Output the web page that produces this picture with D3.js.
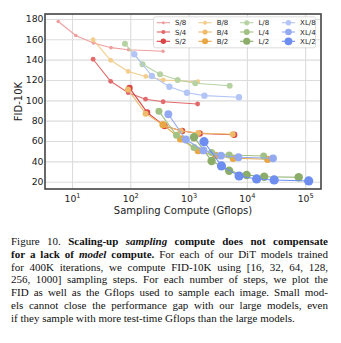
<!DOCTYPE html>
<html>
<head>
<meta charset="utf-8">
<script src="https://cdn.jsdelivr.net/npm/d3@7"></script>
<style>
  body { margin: 0; background: #fff; }
  svg { display: block; }
</style>
</head>
<body>
<div id="chart"></div>
<script>
// ---- data ----
// number of sampling steps per point: 16, 32, 64, 128, 256, 1000
const modelNames = ["S/8", "S/4", "S/2", "B/8", "B/4", "B/2", "L/8", "L/4", "L/2", "XL/8", "XL/4", "XL/2"];

const gflopsS8 = [5.8, 11.6, 23.3, 46.6, 93, 364];
const fidS8 = [177.5, 163.8, 156.4, 151.8, 149.8, 148.3];
const gflopsS4 = [23, 46, 92, 183, 366, 1430];
const fidS4 = [140.4, 118.7, 107.5, 101.1, 98.6, 96.4];
const gflopsS2 = [97, 194, 387, 774, 1550, 6050];
const fidS2 = [112.2, 88.1, 74.8, 69.9, 67.4, 66.2];

const gflopsB8 = [23, 46, 92, 184, 368, 1440];
const fidB8 = [159.6, 139.4, 128.4, 123.5, 120.0, 118.3];
const gflopsB4 = [91, 183, 366, 731, 1460, 5710];
const fidB4 = [110.7, 86.9, 75.8, 69.9, 67.9, 66.6];
const gflopsB2 = [364, 728, 1460, 2910, 5820, 22700];
const fidB2 = [76.1, 62.0, 50.5, 45.8, 43.0, 42.0];

const gflopsL8 = [81, 162, 324, 649, 1300, 5070];
const fidL8 = [155.7, 135.5, 125.6, 120.0, 116.8, 114.4];
const gflopsL4 = [310, 621, 1240, 2480, 4970, 19400];
const fidL4 = [89.2, 65.6, 53.6, 48.7, 46.3, 45.3];
const gflopsL2 = [1240, 2480, 4960, 9910, 19800, 77500];
const fidL2 = [63.7, 40.4, 30.8, 26.6, 24.9, 24.3];

const gflopsXL8 = [117, 234, 469, 937, 1870, 7320];
const fidXL8 = [145.3, 124.0, 113.4, 107.5, 104.6, 103.0];
const gflopsXL4 = [449, 898, 1800, 3590, 7180, 28100];
const fidXL4 = [86.3, 61.5, 50.7, 45.6, 44.0, 43.0];
const gflopsXL2 = [1840, 3670, 7350, 14700, 29400, 115000];
const fidXL2 = [59.3, 35.5, 25.6, 22.7, 21.7, 20.7];

const xTicks = [10, 100, 1000, 10000, 100000];
const xTickExp = ["1", "2", "3", "4", "5"];
const yTicks = [20, 40, 60, 80, 100, 120, 140, 160, 180];

// ---- styles (kept apart from data) ----
const style = {
    "S/8":  { color: "#ef9f9f", r: 1.8 },
    "S/4":  { color: "#e36a6a", r: 2.4 },
    "S/2":  { color: "#d94545", r: 3.2 },
    "B/8":  { color: "#f3cd8c", r: 2.4 },
    "B/4":  { color: "#eebb6a", r: 3.0 },
    "B/2":  { color: "#e9a645", r: 3.6 },
    "L/8":  { color: "#b7d2a2", r: 3.0 },
    "L/4":  { color: "#a2c184", r: 3.5 },
    "L/2":  { color: "#8bad69", r: 4.2 },
    "XL/8": { color: "#b3c5f6", r: 3.2 },
    "XL/4": { color: "#93aaf2", r: 3.9 },
    "XL/2": { color: "#6d8ef0", r: 4.6 }
};

const series = [
    { name: "S/8", gflops: gflopsS8, fid: fidS8 },
    { name: "S/4", gflops: gflopsS4, fid: fidS4 },
    { name: "S/2", gflops: gflopsS2, fid: fidS2 },
    { name: "B/8", gflops: gflopsB8, fid: fidB8 },
    { name: "B/4", gflops: gflopsB4, fid: fidB4 },
    { name: "B/2", gflops: gflopsB2, fid: fidB2 },
    { name: "L/8", gflops: gflopsL8, fid: fidL8 },
    { name: "L/4", gflops: gflopsL4, fid: fidL4 },
    { name: "L/2", gflops: gflopsL2, fid: fidL2 },
    { name: "XL/8", gflops: gflopsXL8, fid: fidXL8 },
    { name: "XL/4", gflops: gflopsXL4, fid: fidXL4 },
    { name: "XL/2", gflops: gflopsXL2, fid: fidXL2 }
];

// ---- layout ----
const width = 341, height = 343;
const plot = { left: 45, right: 321, top: 14, bottom: 189 };
const sans = "'DejaVu Sans', sans-serif";

const svg = d3.select("#chart")
    .append("svg")
    .attr("width", width)
    .attr("height", height);

// scales
const xScale = d3.scaleLog()
    .domain([3.44, 1.87e5])
    .range([plot.left, plot.right]);
const yScale = d3.scaleLinear()
    .domain([12.8, 184.9])
    .range([plot.bottom, plot.top]);

// grid lines
const gridX = svg.append("g")
    .attr("transform", "translate(0," + plot.bottom + ")")
    .call(d3.axisBottom(xScale).tickValues(xTicks).tickFormat("")
        .tickSize(-(plot.bottom - plot.top)));
const gridY = svg.append("g")
    .attr("transform", "translate(" + plot.left + ",0)")
    .call(d3.axisLeft(yScale).tickValues(yTicks).tickFormat("")
        .tickSize(-(plot.right - plot.left)));
[gridX, gridY].forEach(function(g) {
    g.select(".domain").remove();
    g.selectAll("line").attr("stroke", "#dcdcdc").attr("stroke-width", 1.1);
});

// y tick labels
const yAxis = svg.append("g")
    .attr("transform", "translate(" + (plot.left - 1.5) + ",0)")
    .call(d3.axisLeft(yScale).tickValues(yTicks).tickSize(0).tickPadding(0));
yAxis.select(".domain").remove();
yAxis.selectAll("text")
    .attr("font-family", sans)
    .attr("font-size", 9.3)
    .attr("fill", "#222");

// x tick labels with superscript exponent
const xAxis = svg.append("g")
    .attr("transform", "translate(0," + plot.bottom + ")")
    .call(d3.axisBottom(xScale).tickValues(xTicks).tickSize(0).tickFormat(""));
xAxis.select(".domain").remove();
xAxis.selectAll(".tick").each(function(d, i) {
    const t = d3.select(this).append("text")
        .attr("y", 12.5)
        .attr("text-anchor", "middle")
        .attr("font-family", sans)
        .attr("font-size", 9.3)
        .attr("fill", "#222");
    t.append("tspan").text("10");
    t.append("tspan").text(xTickExp[i])
        .attr("font-size", 6.6)
        .attr("dy", -4);
});

// axis titles
svg.append("text")
    .attr("x", (plot.left + plot.right) / 2)
    .attr("y", 213.5)
    .attr("text-anchor", "middle")
    .attr("font-family", sans)
    .attr("font-size", 10)
    .attr("fill", "#222")
    .text("Sampling Compute (Gflops)");
svg.append("text")
    .attr("transform", "translate(21.5," + (plot.top + plot.bottom) / 2 + ") rotate(-90)")
    .attr("text-anchor", "middle")
    .attr("font-family", sans)
    .attr("font-size", 10)
    .attr("fill", "#222")
    .text("FID-10K");

// lines + markers
const line = d3.line()
    .x(function(d) { return xScale(d.g); })
    .y(function(d) { return yScale(d.fid); });

const marks = svg.append("g");
series.forEach(function(s) {
    const pts = s.gflops.map(function(g, i) { return { g: g, fid: s.fid[i] }; });
    const st = style[s.name];
    const g = marks.append("g");
    g.append("path")
        .datum(pts)
        .attr("d", line)
        .attr("fill", "none")
        .attr("stroke", st.color)
        .attr("stroke-width", 1.1);
    g.selectAll("circle")
        .data(pts)
        .join("circle")
        .attr("cx", function(d) { return xScale(d.g); })
        .attr("cy", function(d) { return yScale(d.fid); })
        .attr("r", st.r)
        .attr("fill", st.color);
});

// frame
svg.append("rect")
    .attr("x", plot.left)
    .attr("y", plot.top)
    .attr("width", plot.right - plot.left)
    .attr("height", plot.bottom - plot.top)
    .attr("fill", "none")
    .attr("stroke", "#444")
    .attr("stroke-width", 1.6);

// legend, 4 columns x 3 rows
const legend = svg.append("g");
legend.append("rect")
    .attr("x", 153.5).attr("y", 16.8)
    .attr("width", 162).attr("height", 31)
    .attr("rx", 2)
    .attr("fill", "#fff").attr("fill-opacity", 0.85)
    .attr("stroke", "#d4d4d4").attr("stroke-width", 0.8);
modelNames.forEach(function(name, i) {
    const col = Math.floor(i / 3), row = i % 3;
    const lx = 156.7 + col * 41.7, ly = 22.7 + row * 9.3;
    const st = style[name];
    legend.append("line")
        .attr("x1", lx).attr("x2", lx + 13.3)
        .attr("y1", ly).attr("y2", ly)
        .attr("stroke", st.color).attr("stroke-width", 1.1);
    legend.append("circle")
        .attr("cx", lx + 6.65).attr("cy", ly)
        .attr("r", st.r * 0.85)
        .attr("fill", st.color);
    legend.append("text")
        .attr("x", lx + 18.3).attr("y", ly + 2.5)
        .attr("font-family", sans)
        .attr("font-size", 7)
        .attr("fill", "#222")
        .text(name);
});

// ---- caption, justified like the paper ----
const serif = "'Liberation Serif', 'Times New Roman', serif";
const captionLines = [
    [["Figure", "n"], ["10.", "n"], ["Scaling-up", "b"], ["sampling", "bi"], ["compute", "b"], ["does", "b"], ["not", "b"], ["compensate", "b"]],
    [["for", "b"], ["a", "b"], ["lack", "b"], ["of", "b"], ["model", "bi"], ["compute.", "b"], ["For", "n"], ["each", "n"], ["of", "n"], ["our", "n"], ["DiT", "n"], ["models", "n"], ["trained", "n"]],
    "for 400K iterations, we compute FID-10K using [16, 32, 64, 128,",
    "256, 1000] sampling steps. For each number of steps, we plot the",
    "FID as well as the Gflops used to sample each image. Small mod-",
    "els cannot close the performance gap with our large models, even",
    "if they sample with more test-time Gflops than the large models."
];
const capLeft = 11, capRight = 328, capTop = 245.3, capStep = 12.7, capSize = 11;
const caption = svg.append("g");
captionLines.forEach(function(ln, li) {
    const words = typeof ln === "string"
        ? ln.split(" ").map(function(w) { return [w, "n"]; })
        : ln;
    const y = capTop + li * capStep;
    const nodes = words.map(function(w) {
        return caption.append("text")
            .attr("y", y)
            .attr("font-family", serif)
            .attr("font-size", capSize)
            .attr("font-weight", w[1].indexOf("b") >= 0 ? "bold" : "normal")
            .attr("font-style", w[1].indexOf("i") >= 0 ? "italic" : "normal")
            .attr("fill", "#111")
            .text(w[0]);
    });
    const widths = nodes.map(function(n) { return n.node().getComputedTextLength(); });
    const total = d3.sum(widths);
    const last = li === captionLines.length - 1;
    const gap = last ? capSize * 0.25 : (capRight - capLeft - total) / (nodes.length - 1);
    let cx = capLeft;
    nodes.forEach(function(n, i) {
        n.attr("x", cx);
        cx += widths[i] + gap;
    });
});
</script>
</body>
</html>
